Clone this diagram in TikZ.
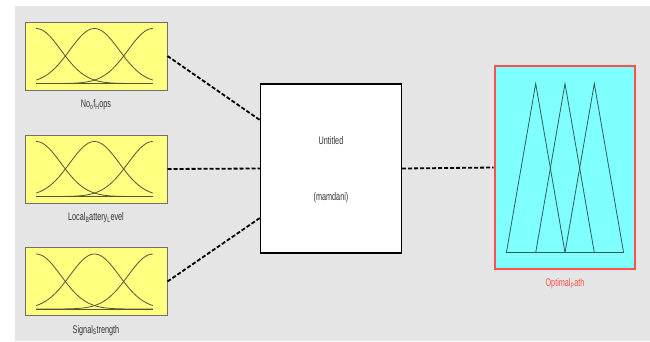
\documentclass[tikz,border=0pt]{standalone}
\usepackage{fontspec}
\setmainfont{Liberation Sans}
\usetikzlibrary{positioning,calc}

\definecolor{panelgray}{HTML}{E5E5E5}
\definecolor{mfyellow}{HTML}{FFFF80}
\definecolor{boxedge}{HTML}{6E6E6E}
\definecolor{mfcurve}{HTML}{55553A}
\definecolor{outcyan}{HTML}{80FFFF}
\definecolor{outred}{HTML}{FF5050}
\definecolor{trimf}{HTML}{2E5E5E}

\tikzset{
    mfbox/.style={draw=boxedge, fill=mfyellow, line width=1pt, minimum width=142pt, minimum height=68pt, inner sep=0pt},
    fisbox/.style={draw=black, fill=white, line width=1.3pt, minimum width=141pt, minimum height=169pt, inner sep=0pt},
    outbox/.style={draw=outred, fill=outcyan, line width=2.6pt, minimum width=140pt, minimum height=203pt, inner sep=0pt},
    varlabel/.style={inner sep=0pt, xscale=0.66, text=black!80, font=\fontsize{11}{11}\selectfont},
    link/.style={line width=1.8pt, dash pattern=on 4pt off 2pt},
    gauss/.style={mfcurve, line width=0.8pt},
    tri/.style={trimf, line width=0.8pt}
}

\begin{document}
\begin{tikzpicture}[x=1pt, y=-1pt]
    \useasboundingbox (0,0) rectangle (650,341);
    \fill [white] (0,0) rectangle (650,341);
    \fill [panelgray] (15,6) rectangle (650,341);

    \node [mfbox] (hops) at (96,56) {};
    \node [mfbox] (battery) at (96,169) {};
    \node [mfbox] (signal) at (96,281.5) {};
    \node [fisbox] (fis) at (331,168.5) {};
    \node [outbox] (path) at (565,167.5) {};

    \foreach \b in {hops,battery,signal} {
        \begin{scope}[shift={(\b.south west)}]
            \foreach \c in {0,0.5,1}
                \draw [gauss] plot [domain=0:1, samples=50, smooth] ({11.7+116.6*\x}, {-7-55*exp(-((\x-\c)^2)/0.0901)});
            \draw [gauss] (11.7,-7) -- (128.3,-7);
        \end{scope}
    }

    \begin{scope}[shift={(path.south west)}]
        \foreach \k in {0,1,2}
            \draw [tri] ({12.7+29.3*\k},-17.7) -- ({42+29.3*\k},-186.7) -- ({71.3+29.3*\k},-17.7);
        \draw [tri] (12.7,-17.7) -- (129.9,-17.7);
    \end{scope}

    \node [varlabel, below=9pt of hops] (hopslabel) {No\textsubscript{o}f\textsubscript{H}ops};
    \node [varlabel, below=9pt of battery] (batterylabel) {Local\textsubscript{B}attery\textsubscript{L}evel};
    \node [varlabel, below=9pt of signal] (signallabel) {Signal\textsubscript{S}trength};
    \node [varlabel, below=8pt of path, text=outred] (pathlabel) {Optimal\textsubscript{P}ath};
    \node [varlabel] (fisname) at ($(fis.center)+(0,-27.5)$) {Untitled};
    \node [varlabel] (fistype) at ($(fis.center)+(0,29.5)$) {(mamdani)};

    \coordinate (in1) at ($(fis.west)+(0,-48.5)$);
    \coordinate (in3) at ($(fis.west)+(0,49.5)$);
    \draw [link] (hops.east) -- (in1);
    \draw [link] (battery.east) -- (fis.west);
    \draw [link] (signal.east) -- (in3);
    \draw [link] (fis.east) -- (path.west);
\end{tikzpicture}
\end{document}
